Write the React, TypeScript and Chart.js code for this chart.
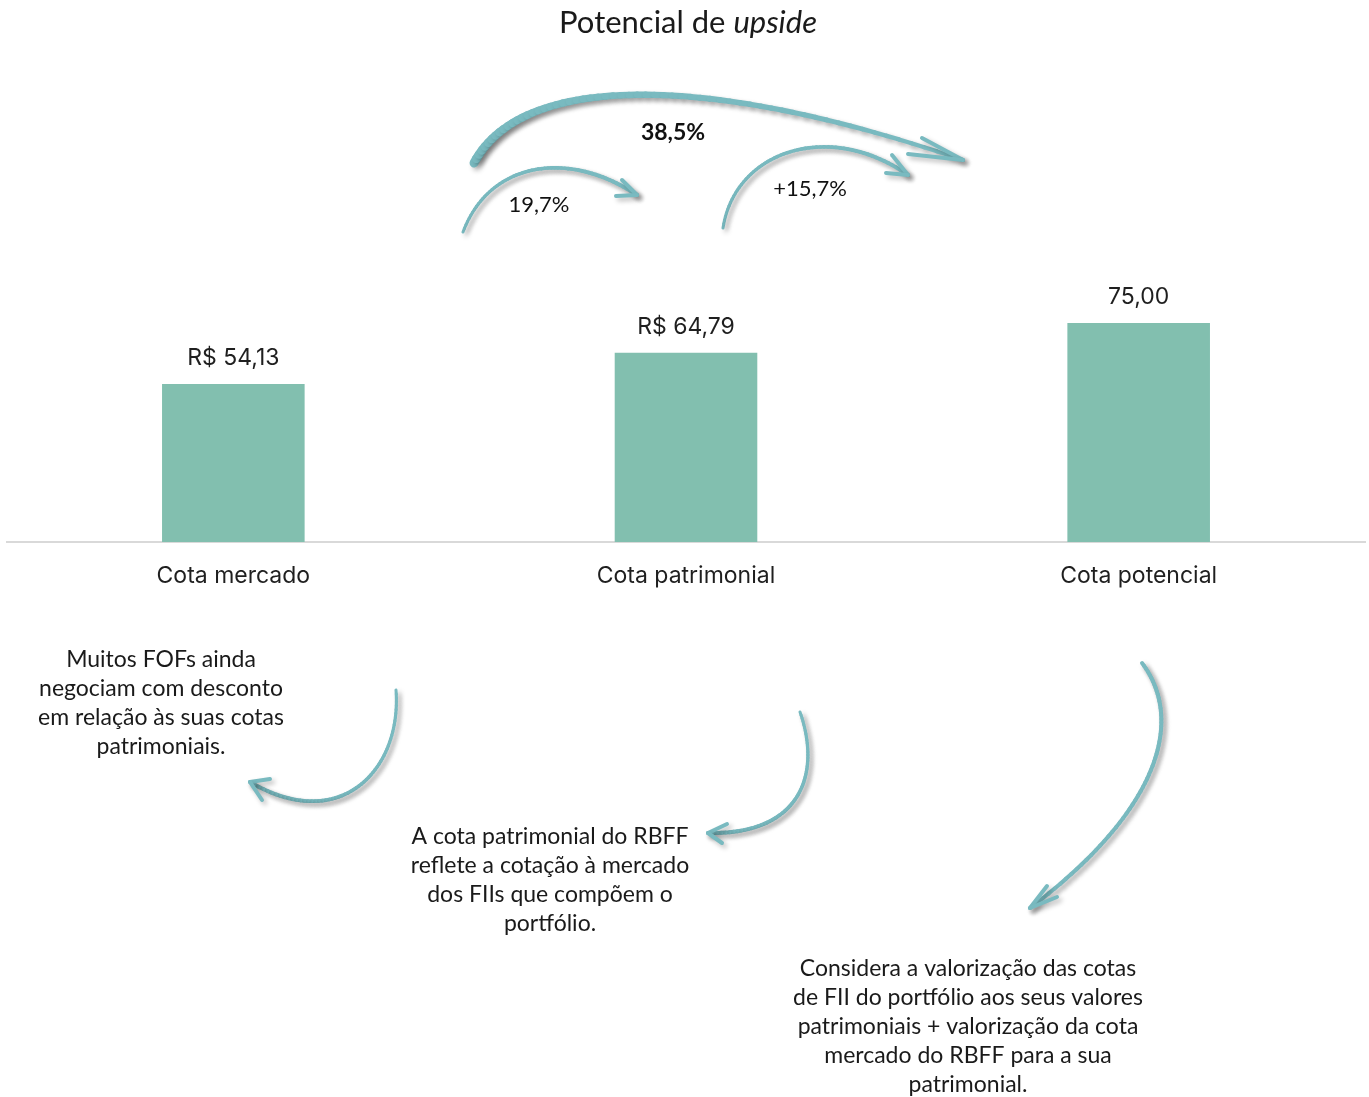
import React, { useEffect, useRef } from "react";
import { Chart, registerables } from "chart.js";

Chart.register(...registerables);

const categories = ["Cota mercado", "Cota patrimonial", "Cota potencial"];
const values = [54.13, 64.79, 75.0];
const valueLabels = ["R$ 54,13", "R$ 64,79", "75,00"];
const titleMain = "Potencial de ";
const titleItalic = "upside";
const upsideLabels = ["38,5%", "19,7%", "+15,7%"];
const noteLeft = ["Muitos FOFs ainda", "negociam com desconto", "em relação às suas cotas", "patrimoniais."];
const noteMiddle = ["A cota patrimonial do RBFF", "reflete a cotação à mercado", "dos FIIs que compõem o", "portfólio."];
const noteRight = [
  "Considera a valorização das cotas",
  "de FII do portfólio aos seus valores",
  "patrimoniais + valorização da cota",
  "mercado do RBFF para a sua",
  "patrimonial.",
];

const BAR_COLOR = "#82bfaf";
const ARROW_COLOR = "#79bac0";
const NOTE_FONT = "Lato, 'Open Sans', sans-serif";
const LABEL_FONT = "Inter, Roboto, sans-serif";

type P = [number, number];

function bez(p0: P, p1: P, p2: P, p3: P, t: number): P {
  const u = 1 - t;
  return [
    u * u * u * p0[0] + 3 * u * u * t * p1[0] + 3 * u * t * t * p2[0] + t * t * t * p3[0],
    u * u * u * p0[1] + 3 * u * u * t * p1[1] + 3 * u * t * t * p2[1] + t * t * t * p3[1],
  ];
}

function drawArrow(
  ctx: CanvasRenderingContext2D,
  p0: P, p1: P, p2: P, p3: P,
  w0: number, w1: number,
  barbs: P[]
) {
  ctx.save();
  ctx.lineCap = "round";
  ctx.lineJoin = "round";
  ctx.strokeStyle = ARROW_COLOR;
  ctx.shadowColor = "rgba(0,0,0,0.28)";
  ctx.shadowBlur = 5;
  ctx.shadowOffsetX = 3;
  ctx.shadowOffsetY = 3;
  const N = 60;
  let prev = bez(p0, p1, p2, p3, 0);
  for (let i = 1; i <= N; i++) {
    const t = i / N;
    const cur = bez(p0, p1, p2, p3, t);
    ctx.beginPath();
    ctx.lineWidth = w0 + (w1 - w0) * t;
    ctx.moveTo(prev[0], prev[1]);
    ctx.lineTo(cur[0], cur[1]);
    ctx.stroke();
    prev = cur;
  }
  ctx.lineWidth = w1;
  for (const b of barbs) {
    ctx.beginPath();
    ctx.moveTo(p3[0], p3[1]);
    ctx.lineTo(b[0], b[1]);
    ctx.stroke();
  }
  ctx.restore();
}

function drawLines(ctx: CanvasRenderingContext2D, lines: string[], cx: number, y0: number, lh: number) {
  lines.forEach((l, i) => ctx.fillText(l, cx, y0 + i * lh));
}

const decorPlugin = {
  id: "decor",
  afterDraw(chart: any) {
    const ctx: CanvasRenderingContext2D = chart.ctx;
    ctx.save();
    // Title
    ctx.fillStyle = "#1a1a1a";
    ctx.textBaseline = "middle";
    ctx.textAlign = "left";
    ctx.font = `31px ${NOTE_FONT}`;
    const w1 = ctx.measureText(titleMain).width;
    ctx.font = `italic 31px ${NOTE_FONT}`;
    const w2 = ctx.measureText(titleItalic).width;
    const tx = 688 - (w1 + w2) / 2;
    ctx.font = `31px ${NOTE_FONT}`;
    ctx.fillText(titleMain, tx, 23);
    ctx.font = `italic 31px ${NOTE_FONT}`;
    ctx.fillText(titleItalic, tx + w1, 23);

    // Value labels above bars
    const meta = chart.getDatasetMeta(0);
    ctx.textAlign = "center";
    ctx.textBaseline = "alphabetic";
    ctx.font = `23px ${LABEL_FONT}`;
    ctx.fillStyle = "#1f1f1f";
    meta.data.forEach((bar: any, i: number) => {
      ctx.fillText(valueLabels[i], bar.x, bar.y - 19);
    });

    // Arrows
    drawArrow(ctx, [474, 163], [520, 75], [700, 70], [963, 160], 9, 4, [[922, 138], [908, 154]]);
    drawArrow(ctx, [463, 232], [490, 160], [570, 150], [637, 195], 3, 4, [[622, 180], [616, 196]]);
    drawArrow(ctx, [723, 228], [735, 150], [830, 120], [908, 175], 3, 4, [[892, 155], [886, 173]]);
    drawArrow(ctx, [396, 690], [402, 770], [340, 835], [250, 782], 3, 4, [[270, 779], [262, 800]]);
    drawArrow(ctx, [800, 712], [822, 775], [800, 835], [708, 833], 3, 4, [[727, 824], [722, 843]]);
    drawArrow(ctx, [1142, 663], [1185, 720], [1160, 810], [1030, 908], 4, 4, [[1047, 886], [1057, 897]]);

    // Percent labels
    ctx.textBaseline = "middle";
    ctx.fillStyle = "#111";
    ctx.font = `bold 23px ${NOTE_FONT}`;
    ctx.fillText(upsideLabels[0], 673, 133);
    ctx.font = `22px ${NOTE_FONT}`;
    ctx.fillText(upsideLabels[1], 539, 205);
    ctx.fillText(upsideLabels[2], 810, 189);

    // Notes
    ctx.font = `23px ${NOTE_FONT}`;
    ctx.fillStyle = "#1a1a1a";
    drawLines(ctx, noteLeft, 161, 660, 29);
    drawLines(ctx, noteMiddle, 550, 837, 29);
    drawLines(ctx, noteRight, 968, 969, 29);
    ctx.restore();
  },
};

export default function App() {
  const ref = useRef<HTMLCanvasElement | null>(null);
  useEffect(() => {
    if (!ref.current) return;
    const chart = new Chart(ref.current, {
      type: "bar",
      data: {
        labels: categories,
        datasets: [
          {
            data: values,
            backgroundColor: BAR_COLOR,
            borderWidth: 0,
            categoryPercentage: 1,
            barPercentage: 0.315,
          },
        ],
      },
      options: {
        animation: false,
        responsive: true,
        maintainAspectRatio: false,
        layout: { padding: { top: 250, bottom: 495, left: 7, right: 4 } },
        plugins: { legend: { display: false }, title: { display: false }, tooltip: { enabled: false } },
        scales: {
          x: {
            grid: { display: false, drawTicks: false },
            border: { display: true, color: "#d9d9d9", width: 2 },
            ticks: {
              color: "#1f1f1f",
              font: { family: LABEL_FONT, size: 23 },
              padding: 20,
            },
            afterFit: (scale: any) => {
              scale.height = 60;
            },
          },
          y: { display: false, min: 0, max: 100 },
        },
      },
      plugins: [decorPlugin],
    });
    return () => chart.destroy();
  }, []);
  return (
    <div style={{ position: "absolute", left: 0, top: 0, width: 1369, height: 1097, background: "#fff" }}>
      <canvas ref={ref} />
    </div>
  );
}
